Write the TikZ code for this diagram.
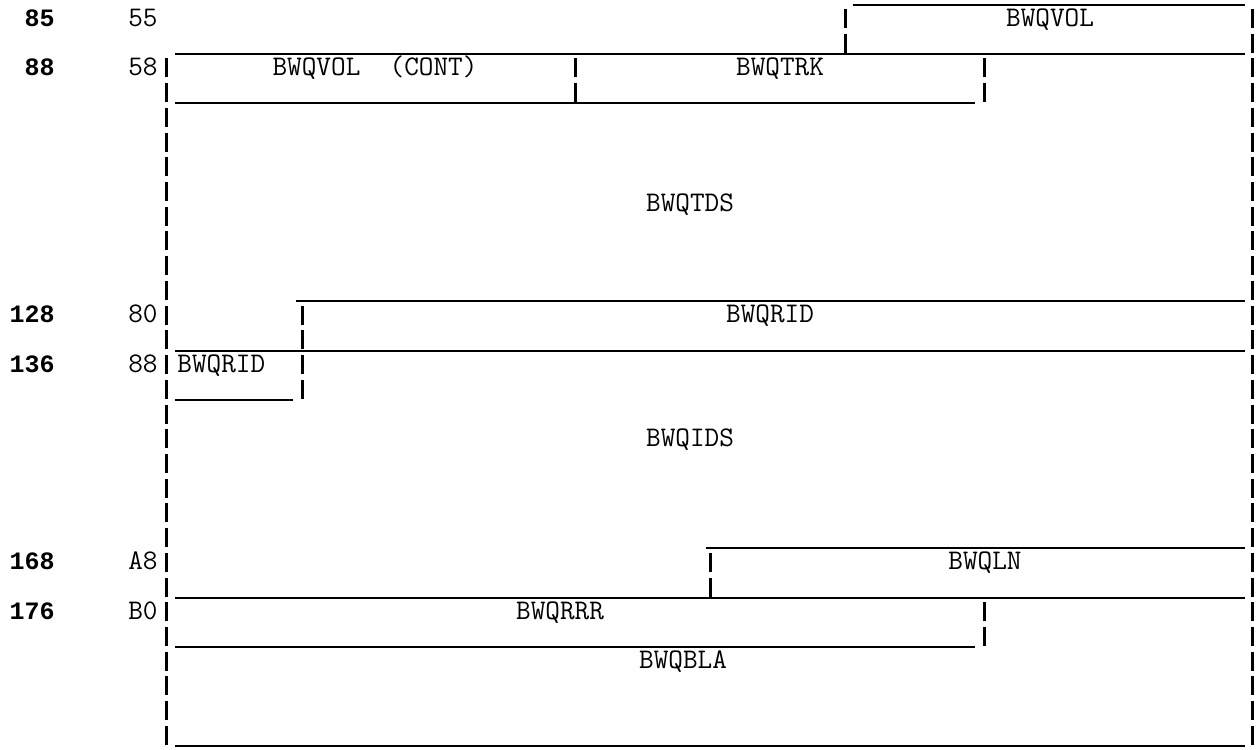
\documentclass[tikz,border=0pt]{standalone}
\usepackage{fontspec}
\newfontfamily\numfont{Liberation Mono}
\begin{document}
\begin{tikzpicture}[x=0.5pt,y=-0.5pt,
  lbl/.style={font=\ttfamily\fontsize{14.2}{16}\selectfont, inner sep=0pt, text height=0.6em, text depth=0pt},
  num/.style={font=\numfont\bfseries\fontsize{12.5}{14}\selectfont, inner sep=0pt, text height=0.6em, text depth=0pt},
  rule/.style={line width=1pt},
  bars/.style={line width=1.5pt, dash pattern=on 9.5pt off 2.86pt}]
\useasboundingbox (0,0) rectangle (1259,750);
% offsets (decimal / hex)
\node[num, anchor=east] (d85)  at (55,20)     {85};
\node[num, anchor=east] (d88)  at (55,69.44)  {88};
\node[num, anchor=east] (d128) at (55,316.64) {128};
\node[num, anchor=east] (d136) at (55,366.08) {136};
\node[num, anchor=east] (d168) at (55,563.84) {168};
\node[num, anchor=east] (d176) at (55,613.28) {176};
\node[lbl, anchor=east] (h55) at (158,20)     {55};
\node[lbl, anchor=east] (h58) at (158,69.44)  {58};
\node[lbl, anchor=east] (h80) at (158,316.64) {80};
\node[lbl, anchor=east] (h88) at (158,366.08) {88};
\node[lbl, anchor=east] (hA8) at (158,563.84) {A8};
\node[lbl, anchor=east] (hB0) at (158,613.28) {B0};
% outer frame sides
\draw[bars] (166,58.44) -- (166,744.88);
\draw[bars] (1252,9) -- (1252,744.88);
% horizontal rules
\draw[rule] (853,4.5) -- (1245,4.5);
\draw[rule] (175,53.94) -- (1245,53.94);
\draw[rule] (175,103.38) -- (975,103.38);
\draw[rule] (296,301.14) -- (1245,301.14);
\draw[rule] (175,350.58) -- (1245,350.58);
\draw[rule] (175,400.02) -- (293,400.02);
\draw[rule] (706,548.34) -- (1245,548.34);
\draw[rule] (175,597.78) -- (1245,597.78);
\draw[rule] (175,647.22) -- (975,647.22);
\draw[rule] (175,746.1) -- (1245,746.1);
% field separators
\draw[bars] (845,9) -- (845,52.72);
\draw[bars] (575,58.44) -- (575,102.16);
\draw[bars] (984,58.44) -- (984,102.16);
\draw[bars] (302,305.64) -- (302,398.8);
\draw[bars] (710,552.84) -- (710,596.56);
\draw[bars] (984,602.28) -- (984,646);
% field names
\node[lbl] (vol)  at (1050,20)     {BWQVOL};
\node[lbl] (volc) at (375,69.44)   {BWQVOL\ \ (CONT)};
\node[lbl] (trk)  at (780,69.44)   {BWQTRK};
\node[lbl] (tds)  at (690,205.4)   {BWQTDS};
\node[lbl] (rid)  at (770,316.64)  {BWQRID};
\node[lbl, anchor=west] (rid2) at (177,366.08) {BWQRID};
\node[lbl] (ids)  at (690,440.24)  {BWQIDS};
\node[lbl] (ln)   at (985,563.84)  {BWQLN};
\node[lbl] (rrr)  at (560,613.28)  {BWQRRR};
\node[lbl] (bla)  at (683,662.72)  {BWQBLA};
\end{tikzpicture}
\end{document}
